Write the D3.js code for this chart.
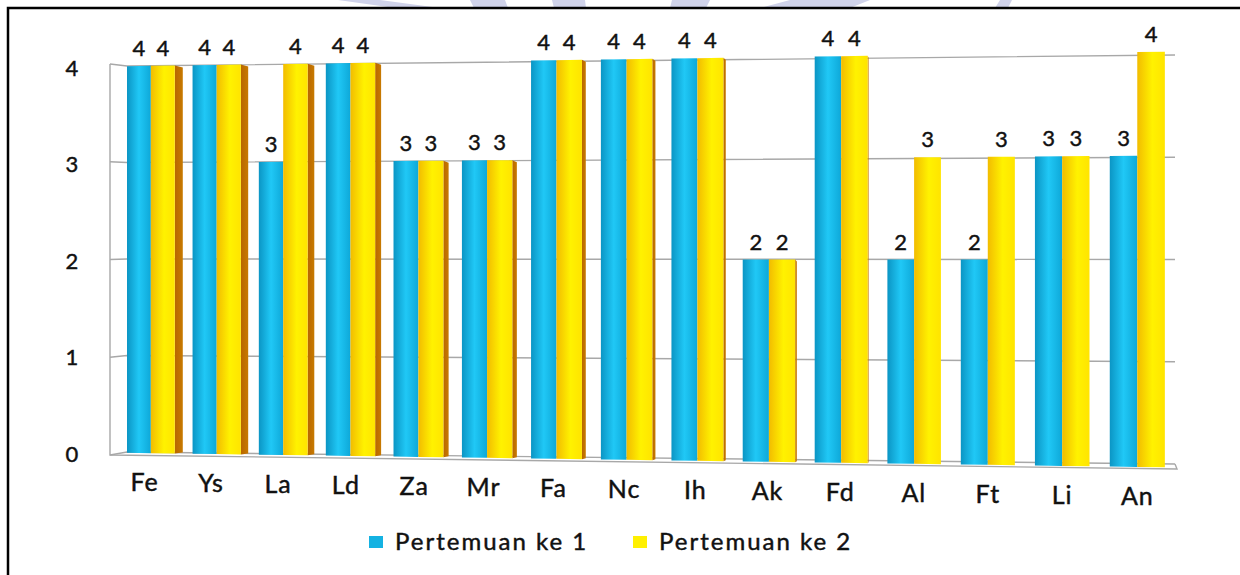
<!DOCTYPE html>
<html>
<head>
<meta charset="utf-8">
<script src="https://cdn.jsdelivr.net/npm/d3@7"></script>
<style>
  html, body { margin: 0; padding: 0; background: #fff; }
  svg { display: block; }
  text { font-family: Lato, "Open Sans", sans-serif; fill: #111; stroke: #111; stroke-width: 0.45px; }
</style>
</head>
<body>
<svg id="chart" width="1240" height="575"></svg>
<script>
const categories = ['Fe', 'Ys', 'La', 'Ld', 'Za', 'Mr', 'Fa', 'Nc', 'Ih', 'Ak', 'Fd', 'Al', 'Ft', 'Li', 'An']
const pertemuan1 = [4, 4, 3, 4, 3, 3, 4, 4, 4, 2, 4, 2, 2, 3, 3]
const pertemuan2 = [4, 4, 4, 4, 3, 3, 4, 4, 4, 2, 4, 3, 3, 3, 4]
const seriesNames = ['Pertemuan ke 1', 'Pertemuan ke 2']
const yTicks = [0, 1, 2, 3, 4]

const svg = d3.select('#chart')

/* frame + watermark scraps above it */
const wm = [[338, 0, 380, 0, 440, 8, 395, 8], [470, 0, 505, 0, 508, 8, 474, 8], [552, 0, 585, 0, 586, 8, 554, 8],
  [672, 0, 710, 0, 706, 8, 670, 8], [790, 0, 870, 0, 850, 8, 760, 8], [1000, 0, 1012, 0, 1008, 8, 995, 8]]
svg.append('g').selectAll('polygon').data(wm).enter().append('polygon')
  .attr('points', d => d3.range(0, d.length, 2).map(i => d[i] + ',' + d[i + 1]).join(' '))
  .attr('fill', '#d0d3ea')
svg.append('path').attr('d', 'M8,575V8H1240').attr('fill', 'none').attr('stroke', '#000').attr('stroke-width', 2.5)

/* world (band) coordinates -> screen x with a bit of perspective */
const band = d3.scaleBand().domain(categories).range([0, 14.73]).paddingInner(0.27).paddingOuter(0)
const sub = d3.scaleBand().domain([0, 1]).range([0, band.bandwidth()])
const px = w => 127 + 65.2 * w + 0.357 * w * w

const yBase = d3.scaleLinear().domain([140, 1140]).range([453, 467])
const yTop = d3.scaleLinear().domain([140, 1140]).range([66, 52])
const yAt = (v, x) => d3.scaleLinear().domain([0, 4]).range([yBase(x), yTop(x)])(v)
const side = x => Math.max(0, 8 * (1 - (x - 175) / 780))

/* walls and gridlines */
const gl = d3.scaleLinear().domain([0, 4]).range([452, 66])
const gr = d3.scaleLinear().domain([0, 4]).range([464, 55])
const wall = d3.scaleLinear().domain([0, 4]).range([455, 64])
const grid = svg.append('g').attr('stroke', '#a8a8a8').attr('stroke-width', 1.4).attr('fill', 'none')
grid.selectAll('path.g').data(yTicks).enter().append('path')
  .attr('d', v => `M110,${wall(v)}L127,${gl(v)}L1175,${gr(v)}`)
grid.append('path').attr('d', `M110,${wall(4)}V${wall(0)}L1177,469L${1175},${gr(0)}`)

svg.append('g').selectAll('text').data(yTicks).enter().append('text')
  .attr('x', 72).attr('y', v => gl(v) + 1)
  .attr('text-anchor', 'middle').attr('dominant-baseline', 'central')
  .style('font-size', '22px')
  .text(d => d)

/* gradients */
const defs = svg.append('defs')
const grad = (id, stops) => {
  const g = defs.append('linearGradient').attr('id', id).attr('x1', 0).attr('x2', 1).attr('y1', 0).attr('y2', 0)
  stops.forEach(s => g.append('stop').attr('offset', s[0]).attr('stop-color', s[1]))
}
grad('gBlue', [[0, '#0b95c4'], [0.5, '#20c8f6'], [1, '#0ea8d8']])
grad('gYellow', [[0, '#f2bc00'], [0.55, '#fff200'], [1, '#ffe400']])
grad('gSide', [[0, '#b86600'], [1, '#c87a00']])

const series = [pertemuan1, pertemuan2]
const fills = ['url(#gBlue)', 'url(#gYellow)']
const bars = []
categories.forEach((c, i) => {
  series.forEach((vals, s) => {
    const w0 = band(c) + sub(s)
    const x0 = px(w0)
    const x1 = px(w0 + sub.bandwidth())
    bars.push({ c, s, v: vals[i], x0, x1 })
  })
})

const gBars = svg.append('g')
gBars.selectAll('path.side').data(bars.filter(b => b.s === 1 && side(b.x1) > 0.3)).enter().append('path')
  .attr('d', b => {
    const d = side(b.x1)
    return `M${b.x1},${yAt(b.v, b.x1)}L${b.x1 + d},${yAt(b.v, b.x1) + 2}L${b.x1 + d},${yBase(b.x1) - 1}L${b.x1},${yBase(b.x1)}Z`
  })
  .attr('fill', 'url(#gSide)')
gBars.selectAll('path.bar').data(bars).enter().append('path')
  .attr('d', b => `M${b.x0},${yAt(b.v, b.x0)}L${b.x1},${yAt(b.v, b.x1)}L${b.x1},${yBase(b.x1)}L${b.x0},${yBase(b.x0)}Z`)
  .attr('fill', b => fills[b.s])

svg.append('g').selectAll('text').data(bars).enter().append('text')
  .attr('x', b => (b.x0 + b.x1) / 2)
  .attr('y', b => yAt(b.v, (b.x0 + b.x1) / 2) - 10)
  .attr('text-anchor', 'middle')
  .style('font-size', '22px')
  .text(b => b.v)

/* category labels */
svg.append('g').selectAll('text').data(categories).enter().append('text')
  .attr('x', c => {
    const xc = (px(band(c)) + px(band(c) + band.bandwidth())) / 2
    return xc - side(xc) * 0.75
  })
  .attr('y', c => yBase(px(band(c) + band.bandwidth() / 2)) + 38)
  .attr('text-anchor', 'middle')
  .style('font-size', '25px').style('letter-spacing', '1px')
  .text(c => c)

/* legend */
const legendX = [369, 633]
const legendColors = ['#14b2e2', '#fff000']
const lg = svg.append('g').selectAll('g').data(seriesNames).enter().append('g')
  .attr('transform', (d, i) => `translate(${legendX[i]},536)`)
lg.append('rect').attr('width', 14).attr('height', 12).attr('fill', (d, i) => legendColors[i])
lg.append('text').attr('x', 26).attr('y', 14)
  .style('font-size', '24px').style('letter-spacing', '2px')
  .text(d => d)
</script>
</body>
</html>
